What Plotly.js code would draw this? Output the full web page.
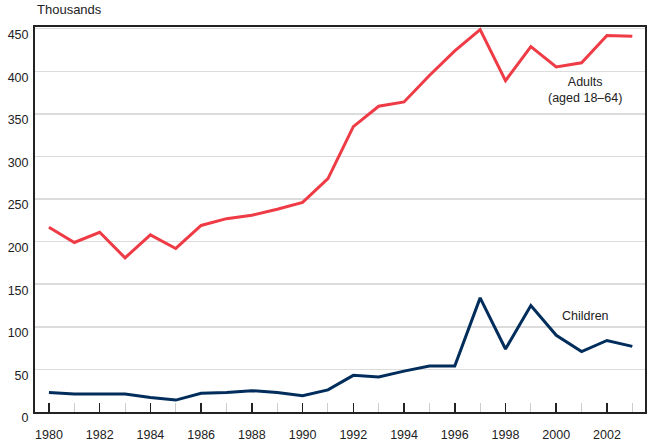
<!DOCTYPE html>
<html><head><meta charset="utf-8">
<script src="https://cdn.plot.ly/plotly-3.0.1.min.js"></script>
<style>html,body{margin:0;padding:0;background:#fff}#chart{width:650px;height:444px}</style>
</head><body><div id="chart"></div>
<script>
const years = [1980,1981,1982,1983,1984,1985,1986,1987,1988,1989,1990,1991,1992,1993,1994,1995,1996,1997,1998,1999,2000,2001,2002,2003];
const adults = [217,199,211,181,208,192,219,227,231,238,246,274,335,359,364,395,424,449,389,429,405,410,442,441];
const children = [23,21,21,21,17,14,22,23,25,23,19,26,43,41,48,54,54,134,74,125,90,71,84,77];
const yTicks = [0,50,100,150,200,250,300,350,400,450];
const xTicks = [1980,1982,1984,1986,1988,1990,1992,1994,1996,1998,2000,2002];

const font = {family: '"Liberation Sans", Arial, Helvetica, sans-serif', size: 12.5, color: '#222'};

const traces = [
  {x: years, y: adults, type: 'scatter', mode: 'lines', name: 'Adults (aged 18–64)',
   line: {color: '#ee3b45', width: 3}},
  {x: years, y: children, type: 'scatter', mode: 'lines', name: 'Children',
   line: {color: '#002d5b', width: 3}}
];

const layout = {
  width: 650, height: 444,
  margin: {l: 35, r: 5, t: 27, b: 32},
  paper_bgcolor: '#fff', plot_bgcolor: '#fff',
  showlegend: false,
  font: font,
  xaxis: {
    range: [1979.45, 2003.5],
    tickmode: 'array', tickvals: xTicks, ticktext: xTicks.map(String),
    ticks: 'inside', ticklen: 9, tickwidth: 1.5, tickcolor: '#222',
    minor: {tickmode: 'linear', tick0: 1981, dtick: 2, ticks: 'inside', ticklen: 9, tickwidth: 1, tickcolor: '#ccc', showgrid: false},
    showgrid: false, zeroline: false,
    showline: true, linecolor: '#222', linewidth: 2, mirror: true,
    ticklabelstandoff: 10,
    tickfont: font
  },
  yaxis: {
    range: [0, 452],
    tickmode: 'array', tickvals: yTicks, ticktext: yTicks.map(String),
    ticks: '', showgrid: true, gridcolor: '#dcdcdc', gridwidth: 1.5,
    zeroline: false,
    showline: true, linecolor: '#222', linewidth: 2, mirror: true,
    ticklabelshift: 6, ticklabelstandoff: 2,
    tickfont: font
  },
  annotations: [
    {xref: 'paper', yref: 'paper', x: 0, y: 1, xanchor: 'left', yanchor: 'bottom', yshift: 8,
     text: 'Thousands', showarrow: false, font: {family: font.family, size: 13, color: '#222'}},
    {xref: 'x', yref: 'y', x: 2001.15, y: 378, xanchor: 'center', yanchor: 'middle',
     text: 'Adults<br>(aged 18–64)', showarrow: false, font: font},
    {xref: 'x', yref: 'y', x: 2001.15, y: 113, xanchor: 'center', yanchor: 'middle',
     text: 'Children', showarrow: false, font: font}
  ]
};

Plotly.newPlot('chart', traces, layout, {staticPlot: true, displayModeBar: false});
</script>
</body></html>
